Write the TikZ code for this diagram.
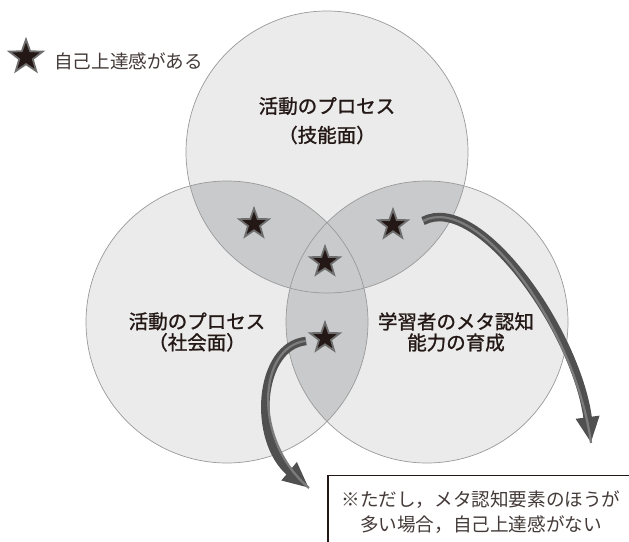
\documentclass[tikz,border=0pt]{standalone}
\usepackage{fontspec}
\setmainfont{Noto Sans CJK JP}
\newfontfamily\boldjp[FakeBold=1.2]{Noto Sans CJK JP}
\usetikzlibrary{shapes.geometric,arrows.meta}
\definecolor{circfill}{HTML}{EBEBEB}
\definecolor{lensfill}{HTML}{C9CACB}
\definecolor{circline}{HTML}{9A9A9A}
\definecolor{starfill}{HTML}{231815}
\definecolor{starline}{HTML}{6E6E6E}
\definecolor{arrdark}{HTML}{505050}
\definecolor{arrlight}{HTML}{7C7C7C}
\definecolor{txt}{HTML}{231815}
\tikzset{
  mystar/.style={star, star points=5, star point ratio=2.45, minimum size=31pt, inner sep=0pt,
    fill=starfill, draw=starline, line width=1.8pt},
  label/.style={font=\boldjp\fontsize{19.5}{21}\selectfont, text=txt, align=center, inner sep=0pt},
  thinlabel/.style={font=\fontsize{18.6}{25}\selectfont, text=txt!85, align=center, inner sep=0pt},
  bigarrow/.style={draw=arrdark, line width=8.5pt, -{Triangle[width=22pt,length=26pt]}},
  hilite/.style={draw=arrlight, line width=2.2pt},
}
\begin{document}
\begin{tikzpicture}[x=1pt,y=-1pt]
\clip (0,0) rectangle (629,541);
\fill[white] (0,0) rectangle (629,541);
\coordinate (T) at (327,152);
\coordinate (L) at (227,322);
\coordinate (R) at (427,322);
\def\rad{141}
% circles
\fill[circfill] (T) circle (\rad);
\fill[circfill] (L) circle (\rad);
\fill[circfill] (R) circle (\rad);
% lenses
\begin{scope}\clip (T) circle (\rad); \fill[lensfill] (L) circle (\rad); \end{scope}
\begin{scope}\clip (T) circle (\rad); \fill[lensfill] (R) circle (\rad); \end{scope}
\begin{scope}\clip (L) circle (\rad); \fill[lensfill] (R) circle (\rad); \end{scope}
% outlines
\draw[circline, line width=0.7pt] (T) circle (\rad);
\draw[circline, line width=0.7pt] (L) circle (\rad);
\draw[circline, line width=0.7pt] (R) circle (\rad);
% labels
\node[label] (tl1) at (327,106) {活動のプロセス};
\node[label] (tl2) at (327,135) {（技能面）};
\node[label] (ll) at (197,332) {活動のプロセス\\（社会面）};
\node[label] (rl) at (456,332) {学習者のメタ認知\\能力の育成};
% legend
\node[mystar, minimum size=35pt] (legstar) at (26,57) {};
\node[thinlabel, anchor=west] (legtxt) at (54,61) {自己上達感がある};
% stars
\node[mystar] (s1) at (254,224) {};
\node[mystar] (s2) at (393,225) {};
\node[mystar] (s3) at (325,262) {};
\node[mystar] (s4) at (325,338) {};
% arrows
\coordinate (a1s) at (423,221);
\coordinate (a1e) at (591,443);
\coordinate (a2s) at (306,341);
\coordinate (a2e) at (309,488);
\draw[bigarrow] (a1s) .. controls (478,192) and (576,330) .. (a1e);
\draw[hilite] (a1s) .. controls (478,192) and (576,330) .. (a1e);
\draw[bigarrow] (a2s) .. controls (258,346) and (252,440) .. (a2e);
\draw[hilite] (a2s) .. controls (258,346) and (252,440) .. (a2e);
% note box
\draw[txt, line width=1.3pt] (328,600) -- (328,475.5) -- (700,475.5);
\node[thinlabel] (note) at (481,512) {※ただし，メタ認知要素のほうが\\多い場合，自己上達感がない};
\end{tikzpicture}
\end{document}
